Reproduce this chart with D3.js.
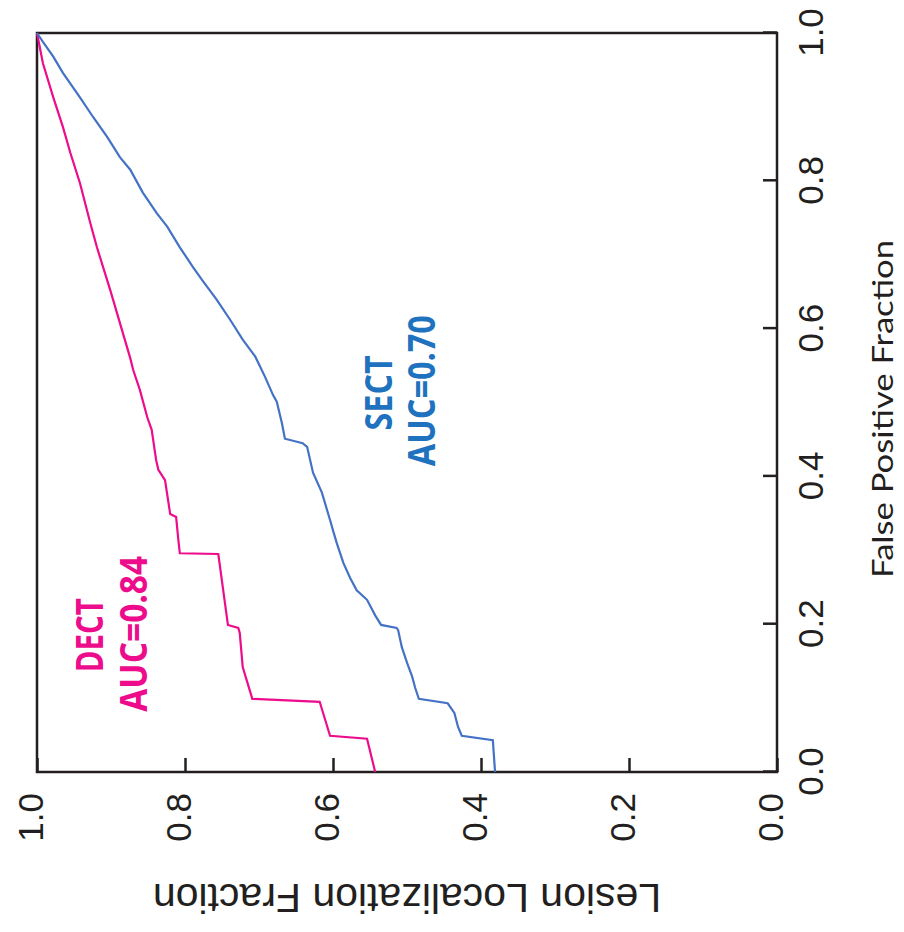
<!DOCTYPE html>
<html>
<head>
<meta charset="utf-8">
<script src="https://cdn.jsdelivr.net/npm/d3@7"></script>
<style>
  body { margin: 0; background: #fff; }
</style>
</head>
<body>
<div id="chart"></div>
<script>
// AFROC curves, FPF vs LLF (chart is drawn then turned 90 degrees)
const seriesNames = ["DECT", "SECT"];
const aucLabels = ["AUC=0.84", "AUC=0.70"];
const fpfTicks = [0, 0.2, 0.4, 0.6, 0.8, 1.0];
const llfTicks = [0, 0.2, 0.4, 0.6, 0.8, 1.0];

const dectFpf = [0, 0.045, 0.049, 0.095, 0.099, 0.142, 0.188, 0.195, 0.199, 0.295, 0.296, 0.314, 0.345, 0.349, 0.395, 0.409, 0.422, 0.463, 0.480, 0.517, 0.544, 0.560, 0.652, 0.710, 0.743, 0.797, 0.838, 0.873, 0.913, 0.959, 1.0];
const dectLlf = [0.543, 0.554, 0.604, 0.618, 0.709, 0.722, 0.726, 0.728, 0.742, 0.755, 0.807, 0.809, 0.812, 0.820, 0.827, 0.836, 0.839, 0.845, 0.851, 0.861, 0.870, 0.874, 0.901, 0.919, 0.928, 0.942, 0.955, 0.965, 0.978, 0.992, 1.0];

const sectFpf = [0, 0.043, 0.049, 0.061, 0.080, 0.093, 0.099, 0.114, 0.129, 0.148, 0.169, 0.192, 0.195, 0.199, 0.212, 0.233, 0.246, 0.263, 0.283, 0.310, 0.327, 0.341, 0.378, 0.405, 0.440, 0.445, 0.451, 0.472, 0.501, 0.510, 0.535, 0.562, 0.585, 0.612, 0.639, 0.666, 0.683, 0.710, 0.738, 0.756, 0.784, 0.815, 0.832, 0.859, 0.886, 0.913, 0.946, 0.968, 0.988, 1.0];
const sectLlf = [0.381, 0.384, 0.426, 0.431, 0.436, 0.445, 0.484, 0.489, 0.493, 0.500, 0.507, 0.512, 0.514, 0.535, 0.543, 0.554, 0.568, 0.577, 0.586, 0.595, 0.600, 0.604, 0.615, 0.627, 0.635, 0.641, 0.665, 0.669, 0.676, 0.681, 0.692, 0.705, 0.722, 0.739, 0.757, 0.777, 0.789, 0.807, 0.824, 0.838, 0.857, 0.874, 0.888, 0.905, 0.924, 0.942, 0.965, 0.978, 0.992, 1.0];

const W = 739, H = 740;
const ink = "#231f20";
const colors = { DECT: "#ec0c8c", SECT: "#4472c4" };
const textColors = { DECT: "#ec0c8c", SECT: "#1f72bd" };

const svg = d3.select("#chart").append("svg")
  .attr("width", 904)
  .attr("height", 932);

// whole plot is rotated: FPF ends up on the right, LLF along the bottom
const g = svg.append("g")
  .attr("transform", "translate(37,772) rotate(-90)");

const x = d3.scaleLinear().domain([0, 1]).range([0, W]);
const y = d3.scaleLinear().domain([0, 1]).range([H, 0]);

// FPF axis
const xAxis = g.append("g")
  .attr("transform", `translate(0,${H})`)
  .call(d3.axisBottom(x).tickValues(fpfTicks).tickFormat(d3.format(".1f"))
    .tickSize(-14).tickPadding(21));

// LLF axis
const yAxis = g.append("g")
  .call(d3.axisLeft(y).tickValues(llfTicks).tickFormat(d3.format(".1f"))
    .tickSize(-14).tickPadding(21));

[xAxis, yAxis].forEach(a => {
  a.select(".domain").remove();
  a.selectAll(".tick line").attr("stroke", ink).attr("stroke-width", 2.5);
  a.selectAll(".tick text")
    .attr("fill", ink)
    .attr("font-family", "'Liberation Sans', Arial, sans-serif")
    .attr("font-size", 35);
});
yAxis.selectAll(".tick text").attr("dy", "0.15em");

// frame
g.append("rect")
  .attr("x", 0).attr("y", 0)
  .attr("width", W).attr("height", H)
  .attr("fill", "none")
  .attr("stroke", ink)
  .attr("stroke-width", 2.5);

// curves
const line = d3.line()
  .x(d => x(d[0]))
  .y(d => y(d[1]));

const curves = [
  { name: "DECT", pts: d3.zip(dectFpf, dectLlf) },
  { name: "SECT", pts: d3.zip(sectFpf, sectLlf) }
];

g.selectAll("path.curve")
  .data(curves)
  .enter()
  .append("path")
  .attr("class", "curve")
  .attr("d", d => line(d.pts))
  .attr("fill", "none")
  .attr("stroke", d => colors[d.name])
  .attr("stroke-width", 2.2);

// labels in the plot (positions in data units)
const notes = [
  { text: seriesNames[0], name: "DECT", fx: 0.185, ly: 0.911, len: 74 },
  { text: aucLabels[0], name: "DECT", fx: 0.187, ly: 0.851, len: 156 },
  { text: seriesNames[1], name: "SECT", fx: 0.513, ly: 0.520, len: 75 },
  { text: aucLabels[1], name: "SECT", fx: 0.516, ly: 0.462, len: 151 }
];

g.selectAll("text.note")
  .data(notes)
  .enter()
  .append("text")
  .attr("class", "note")
  .attr("x", d => x(d.fx))
  .attr("y", d => y(d.ly))
  .attr("text-anchor", "middle")
  .attr("font-family", "'Open Sans', Lato, sans-serif")
  .attr("font-weight", "bold")
  .attr("font-size", 37)
  .attr("textLength", d => d.len)
  .attr("lengthAdjust", "spacingAndGlyphs")
  .attr("fill", d => textColors[d.name])
  .text(d => d.text);

// axis titles
g.append("text")
  .attr("x", 363)
  .attr("y", 856)
  .attr("text-anchor", "middle")
  .attr("font-family", "Lato, 'Open Sans', sans-serif")
  .attr("font-size", 29)
  .attr("textLength", 338)
  .attr("lengthAdjust", "spacingAndGlyphs")
  .attr("fill", ink)
  .text("False Positive Fraction");

g.append("text")
  .attr("transform", `translate(-112,${H / 2}) rotate(-90)`)
  .attr("text-anchor", "middle")
  .attr("font-family", "'Liberation Sans', Arial, sans-serif")
  .attr("font-size", 41)
  .attr("fill", ink)
  .text("Lesion Localization Fraction");
</script>
</body>
</html>
